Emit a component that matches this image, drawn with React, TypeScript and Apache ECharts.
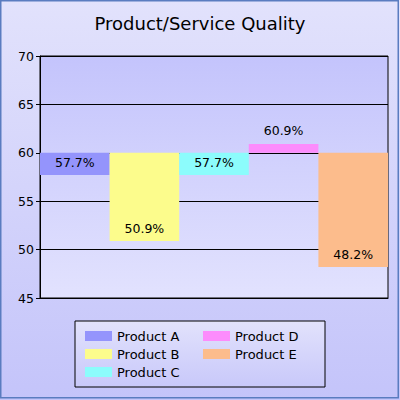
import React, { useEffect, useRef } from "react";
import * as echarts from "echarts";

const titleText = "Product/Service Quality";
const products = ["Product A", "Product B", "Product C", "Product D", "Product E"];
const values = [57.7, 50.9, 57.7, 60.9, 48.2];
const colors = ["#9494fc", "#fcfc8c", "#8cfcfc", "#fc8cfc", "#fcbc8c"];
const baseline = 60;
const yMin = 45;
const yMax = 70;
const yInterval = 5;

export default function App() {
  const ref = useRef<HTMLDivElement>(null);
  useEffect(() => {
    document.body.style.margin = "0";
    const chart = echarts.init(ref.current!, null, { renderer: "svg" });
    const font = "DejaVu Sans";
    const baseData = values.map((v) => Math.min(v, baseline));
    const series: any[] = [
      {
        name: "base",
        type: "bar",
        stack: "s",
        barCategoryGap: "0%",
        itemStyle: { color: "transparent" },
        data: baseData,
        silent: true,
      },
    ];
    products.forEach((p, i) => {
      const v = values[i];
      series.push({
        name: p,
        type: "bar",
        stack: "s",
        barCategoryGap: "0%",
        itemStyle: { color: colors[i] },
        data: values.map((_, j) =>
          j === i
            ? {
                value: +Math.abs(v - baseline).toFixed(2),
                label: {
                  show: true,
                  position: v < baseline ? "insideBottom" : "top",
                  distance: v < baseline ? 6 : 7,
                  formatter: () => v.toFixed(1) + "%",
                  color: "#000",
                  fontSize: 12.5,
                  fontFamily: font,
                },
              }
            : "-"
        ),
      });
    });
    chart.setOption({
      animation: false,
      title: {
        text: titleText,
        left: "center",
        top: 9,
        textStyle: { fontFamily: font, fontSize: 18, fontWeight: "normal", color: "#000" },
      },
      graphic: [
        {
          type: "rect",
          z: -10,
          shape: { x: 0, y: 0, width: 400, height: 400 },
          style: {
            fill: new echarts.graphic.LinearGradient(0, 0, 0, 1, [
              { offset: 0, color: "#e2e2fc" },
              { offset: 1, color: "#c4c4fa" },
            ]),
          },
        },
        {
          type: "rect",
          z: 100,
          shape: { x: 0.75, y: 0.75, width: 397.5, height: 397 },
          style: { fill: "none", stroke: "#5a7cc0", lineWidth: 1.5 },
        },
      ],
      grid: {
        left: 40,
        top: 56,
        width: 348,
        height: 242,
        show: true,
        borderColor: "#000",
        borderWidth: 1,
        backgroundColor: new echarts.graphic.LinearGradient(0, 0, 0, 1, [
          { offset: 0, color: "#c4c4fc" },
          { offset: 1, color: "#e2e2fe" },
        ]),
      },
      xAxis: {
        type: "category",
        data: products,
        axisLine: { show: true, lineStyle: { color: "#000" } },
        axisTick: { show: false },
        axisLabel: { show: false },
      },
      yAxis: {
        type: "value",
        min: yMin,
        max: yMax,
        interval: yInterval,
        axisLine: { show: true, lineStyle: { color: "#000" } },
        axisTick: { show: true, length: 4, lineStyle: { color: "#000" } },
        splitLine: { show: true, lineStyle: { color: "#000", width: 1 } },
        axisLabel: { color: "#000", fontSize: 12.5, fontFamily: font, margin: 6 },
      },
      legend: {
        data: products,
        orient: "vertical",
        left: 75,
        top: 321,
        height: 60,
        padding: [6, 4, 6, 10],
        itemGap: 0,
        itemWidth: 27,
        itemHeight: 10,
        icon: "rect",
        borderColor: "#000",
        borderWidth: 1,
        backgroundColor: new echarts.graphic.LinearGradient(0, 0, 0, 1, [
          { offset: 0, color: "#e2e2fc" },
          { offset: 1, color: "#c8c8fa" },
        ]),
        textStyle: { fontFamily: font, fontSize: 13, color: "#000", width: 86, lineHeight: 18 },
      },
      series,
    });
    return () => chart.dispose();
  }, []);
  return <div ref={ref} style={{ width: 400, height: 400 }} />;
}
